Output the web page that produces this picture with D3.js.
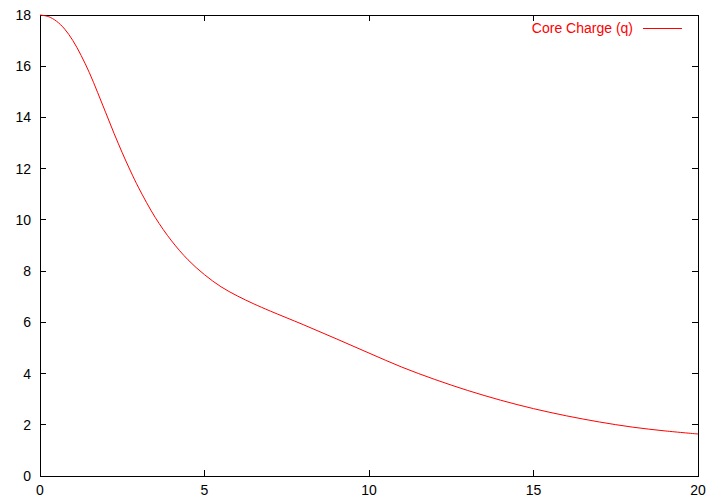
<!DOCTYPE html>
<html><head><meta charset="utf-8">
<script src="https://cdn.jsdelivr.net/npm/d3@7/dist/d3.min.js"></script>
<style>body{margin:0;background:#fff}svg{display:block}text{font-family:"Liberation Sans",Arial,sans-serif}</style>
</head><body>
<script>
const xValues = [0,0.25,0.5,0.75,1,1.25,1.5,1.75,2,2.25,2.5,2.75,3,3.5,4,4.5,5,5.5,6,6.5,7,8,9,10,11,12,13,14,15,16,17,18,19,20];
const yValues = [18,17.94,17.76,17.45,17.0,16.42,15.75,14.98,14.18,13.38,12.62,11.91,11.25,10.1,9.18,8.44,7.86,7.39,7.03,6.72,6.44,5.91,5.36,4.8,4.25,3.77,3.34,2.96,2.63,2.35,2.11,1.91,1.76,1.64];
const xTicks = [0,5,10,15,20];
const yTicks = [0,2,4,6,8,10,12,14,16,18];
const seriesName = "Core Charge (q)";

const W=711,H=501, L=40, R=698, T=15, B=476;
const svg=d3.select("body").append("svg").attr("width",W).attr("height",H);
const x=d3.scaleLinear().domain([0,20]).range([L,R]);
const y=d3.scaleLinear().domain([0,18]).range([B,T]);
const tl=6;
const g=svg.append("g").attr("stroke","#000").attr("stroke-width",1).attr("shape-rendering","crispEdges");
xTicks.forEach(v=>{
  g.append("line").attr("x1",x(v)).attr("x2",x(v)).attr("y1",B).attr("y2",B-tl);
  g.append("line").attr("x1",x(v)).attr("x2",x(v)).attr("y1",T).attr("y2",T+tl);
});
yTicks.forEach(v=>{
  g.append("line").attr("x1",L).attr("x2",L+tl).attr("y1",y(v)).attr("y2",y(v));
  g.append("line").attr("x1",R).attr("x2",R-tl).attr("y1",y(v)).attr("y2",y(v));
});
g.append("rect").attr("x",L).attr("y",T).attr("width",R-L).attr("height",B-T).attr("fill","none");

const lab=svg.append("g").attr("font-size",14).attr("fill","#000");
xTicks.forEach(v=>lab.append("text").attr("x",x(v)).attr("y",B+19).attr("text-anchor","middle").text(v));
yTicks.forEach(v=>lab.append("text").attr("x",L-9).attr("y",y(v)+5).attr("text-anchor","end").text(v));

const data=xValues.map((d,i)=>[d,yValues[i]]);
svg.append("path").datum(data).attr("fill","none").attr("stroke","#ff0000").attr("stroke-width",1)
  .attr("d",d3.line().x(d=>x(d[0])).y(d=>y(d[1])).curve(d3.curveCatmullRom.alpha(0.5)));

svg.append("text").attr("x",633).attr("y",33).attr("text-anchor","end").attr("font-size",14).attr("fill","#ff0000").text(seriesName);
svg.append("line").attr("x1",643).attr("x2",682).attr("y1",28.5).attr("y2",28.5).attr("stroke","#ff0000").attr("stroke-width",1);
</script>
</body></html>
